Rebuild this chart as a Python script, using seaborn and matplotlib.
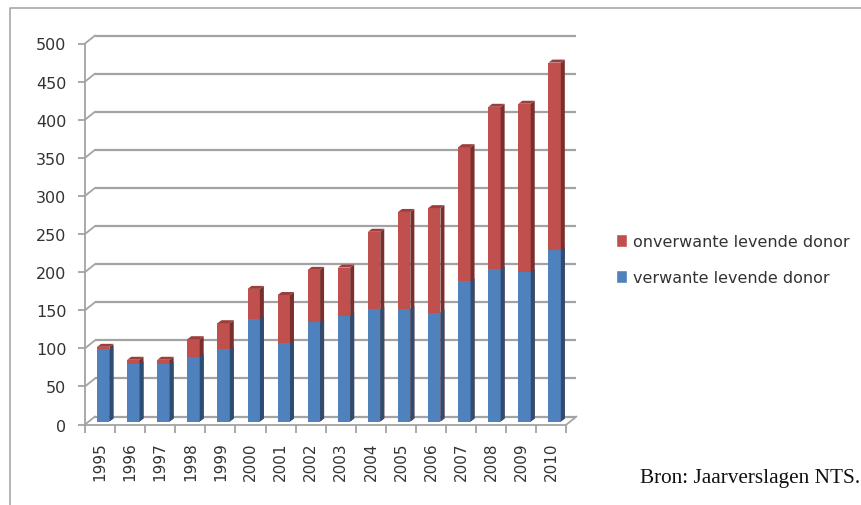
import matplotlib
matplotlib.use("Agg")
import matplotlib.pyplot as plt
from matplotlib.lines import Line2D
from matplotlib.patches import Patch, Polygon
from matplotlib.transforms import Affine2D
import numpy as np
import seaborn as sns

years = ["1995", "1996", "1997", "1998", "1999", "2000", "2001", "2002",
         "2003", "2004", "2005", "2006", "2007", "2008", "2009", "2010"]
verwant = [95, 75, 75, 85, 95, 135, 103, 130, 139, 147, 148, 143, 184, 200, 196, 225]
onverwant = [3, 6, 6, 23, 34, 39, 63, 69, 63, 102, 127, 137, 176, 213, 221, 246]
y_ticks = [0, 50, 100, 150, 200, 250, 300, 350, 400, 450, 500]

BLUE, RED = "#4f81bd", "#c0504d"
BLUE_SIDE, RED_SIDE = "#2f4d72", "#7b2f2d"
RED_TOP = "#9c3f3c"
GRID = "#a3a3a3"
TEXT = "#333333"

W, H = 861, 506
sns.set_theme(style="white")
plt.rcParams["font.family"] = "DejaVu Sans"

fig = plt.figure(figsize=(W / 100, H / 100), dpi=100)
ax = fig.add_axes([85 / W, 1 - 425.5 / H, 481.5 / W, 381 / H])

totals = np.array(verwant) + np.array(onverwant)

# red goes behind, blue on top of it, so the visible red part is the stack
sns.barplot(x=years, y=totals, color=RED, saturation=1, width=0.41, ax=ax, zorder=3)
n_red = len(ax.patches)
sns.barplot(x=years, y=verwant, color=BLUE, saturation=1, width=0.41, ax=ax, zorder=5)
ax.set_xlim(-0.5, len(years) - 0.5)
ax.set_ylim(0, 500)

px_x = 481.5 / len(years)
px_y = 381 / 500
bar_tr = ax.transData + Affine2D().translate(3.2, 3)
back_tr = ax.transData + Affine2D().translate(10, 8)
depth_x, depth_y = 4 / px_x, 3 / px_y

for i, bar in enumerate(ax.patches[:]):
    bar.set_transform(bar_tr)
    bar.set_linewidth(0)
    x0, x1 = bar.get_x(), bar.get_x() + bar.get_width()
    top = bar.get_height()
    is_red = i < n_red
    side = RED_SIDE if is_red else BLUE_SIDE
    z = 4 if is_red else 6
    ax.add_patch(Polygon([(x1, 0), (x1 + depth_x, depth_y), (x1 + depth_x, top + depth_y), (x1, top)],
                         closed=True, facecolor=side, lw=0, transform=bar_tr, zorder=z))
    if is_red:
        ax.add_patch(Polygon([(x0, top), (x0 + depth_x, top + depth_y), (x1 + depth_x, top + depth_y), (x1, top)],
                             closed=True, facecolor=RED_TOP, lw=0, transform=bar_tr, zorder=z))

# back wall gridlines and the little diagonals to the front axis
ax.hlines(y_ticks, -0.5, len(years) - 0.5, colors=GRID, lw=1.6, transform=back_tr, zorder=1, clip_on=False)
for v in y_ticks:
    start = ax.transData.transform((-0.5, v))
    ax.add_line(Line2D([start[0], start[0] + 10], [start[1], start[1] + 8], color=GRID, lw=1.3,
                       transform=None, zorder=1, clip_on=False))
corner = ax.transData.transform((len(years) - 0.5, 0))
ax.add_line(Line2D([corner[0], corner[0] + 10], [corner[1], corner[1] + 8], color=GRID, lw=1.3,
                   transform=None, zorder=1, clip_on=False))

sns.despine(ax=ax, top=True, right=True)
for s in ["left", "bottom"]:
    ax.spines[s].set_color(GRID)
    ax.spines[s].set_linewidth(1.3)

ax.set_yticks(y_ticks)
ax.set_xticks(np.arange(len(years) + 1) - 0.5)
ax.set_xticks(np.arange(len(years)), labels=years, minor=True)
ax.tick_params(axis="x", which="major", length=6, width=1.3, color=GRID, labelbottom=False, bottom=True)
ax.tick_params(axis="x", which="minor", length=0, pad=12, labelsize=11, labelcolor=TEXT, rotation=90, bottom=True)
ax.tick_params(axis="y", length=5, width=1.3, color=GRID, pad=8.5, labelsize=11.5, labelcolor=TEXT, left=True)
ax.set_xlabel("")
ax.set_ylabel("")

handles = [Patch(facecolor=RED, label="onverwante levende donor"),
           Patch(facecolor=BLUE, label="verwante levende donor")]
fig.legend(handles=handles, loc="upper left", bbox_to_anchor=(616 / W, 1 - 235 / H),
           bbox_transform=fig.transFigure, frameon=False, fontsize=11.5, labelcolor=TEXT,
           handlelength=0.68, handleheight=0.85, handletextpad=0.38, labelspacing=1.3,
           borderpad=0, borderaxespad=0)

fig.text(640 / W, 1 - 483 / H, "Bron: Jaarverslagen NTS.", family="Liberation Serif",
         fontsize=15.3, color="#111111", ha="left", va="baseline")

# outer frame of the pasted picture
fig.add_artist(Line2D([9.5 / W, 9.5 / W, 1], [0, 1 - 8.5 / H, 1 - 8.5 / H], color="#a8a8a8", lw=1.2,
                      transform=fig.transFigure))

fig.savefig("out.png", dpi=100)
